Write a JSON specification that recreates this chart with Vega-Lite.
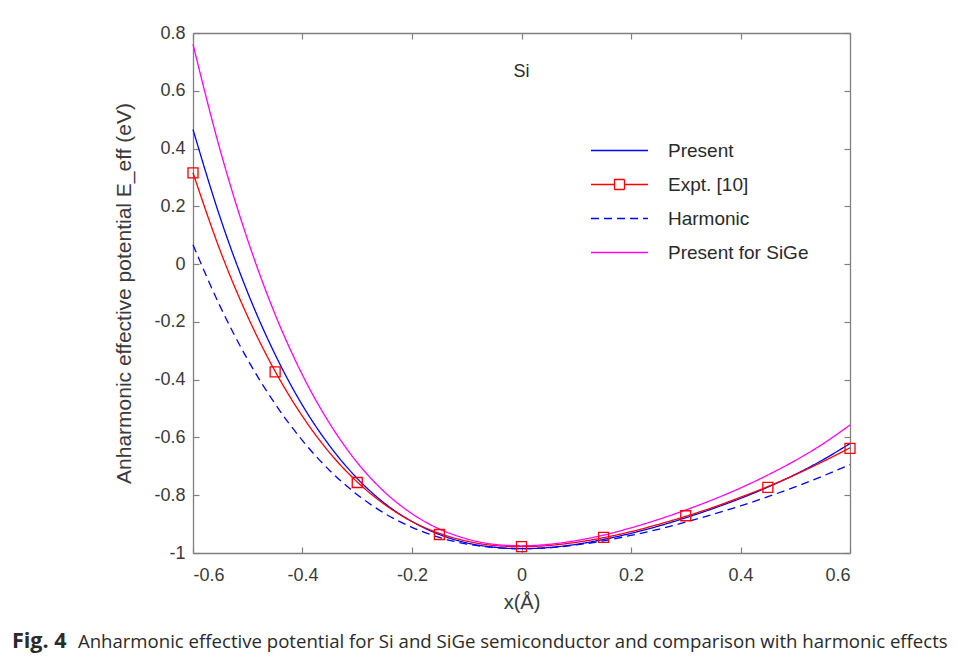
{
  "$schema": "https://vega.github.io/schema/vega-lite/v6.json",
  "width": 657,
  "height": 520,
  "autosize": {"type": "none"},
  "padding": {"left": 193, "top": 33, "right": 106, "bottom": 109},
  "background": "white",
  "config": {
    "view": {"stroke": null},
    "font": "Liberation Sans",
    "axis": {
      "grid": false,
      "domainColor": "#808080",
      "domainWidth": 1.3,
      "tickColor": "#808080",
      "tickWidth": 1.2,
      "tickSize": -6,
      "labelFont": "Liberation Sans",
      "labelFontSize": 18,
      "labelColor": "#3a3a3a",
      "titleFont": "Liberation Sans",
      "titleFontSize": 20,
      "titleFontWeight": "normal",
      "titleColor": "#3a3a3a"
    }
  },
  "title": {
    "text": "Fig. 4",
    "subtitle": "\u200b\u00a0\u00a0\u00a0\u00a0\u00a0\u00a0\u00a0\u00a0\u00a0\u00a0\u00a0\u00a0\u00a0\u2009Anharmonic effective potential for Si and SiGe semiconductor and comparison with harmonic effects",
    "orient": "bottom",
    "anchor": "start",
    "frame": "group",
    "dx": -181,
    "offset": 19,
    "font": "Open Sans",
    "fontSize": 21.5,
    "fontWeight": "bold",
    "color": "#2a2a2a",
    "subtitleFont": "Open Sans",
    "subtitleFontSize": 18.6,
    "subtitleColor": "#2a2a2a",
    "subtitlePadding": -19.3
  },
  "datasets": {
    "curves": [
      {"x": -0.6, "E": 0.466, "series": "Present"},
      {"x": -0.55, "E": 0.159, "series": "Present"},
      {"x": -0.5, "E": -0.099, "series": "Present"},
      {"x": -0.45, "E": -0.313, "series": "Present"},
      {"x": -0.4, "E": -0.489, "series": "Present"},
      {"x": -0.35, "E": -0.63, "series": "Present"},
      {"x": -0.3, "E": -0.742, "series": "Present"},
      {"x": -0.25, "E": -0.828, "series": "Present"},
      {"x": -0.2, "E": -0.891, "series": "Present"},
      {"x": -0.15, "E": -0.936, "series": "Present"},
      {"x": -0.1, "E": -0.965, "series": "Present"},
      {"x": -0.05, "E": -0.98, "series": "Present"},
      {"x": 0, "E": -0.985, "series": "Present"},
      {"x": 0.05, "E": -0.981, "series": "Present"},
      {"x": 0.1, "E": -0.97, "series": "Present"},
      {"x": 0.15, "E": -0.953, "series": "Present"},
      {"x": 0.2, "E": -0.932, "series": "Present"},
      {"x": 0.25, "E": -0.907, "series": "Present"},
      {"x": 0.3, "E": -0.878, "series": "Present"},
      {"x": 0.35, "E": -0.846, "series": "Present"},
      {"x": 0.4, "E": -0.811, "series": "Present"},
      {"x": 0.45, "E": -0.772, "series": "Present"},
      {"x": 0.5, "E": -0.728, "series": "Present"},
      {"x": 0.55, "E": -0.678, "series": "Present"},
      {"x": 0.6, "E": -0.621, "series": "Present"},
      {"x": -0.6, "E": 0.316, "series": "Expt. [10]"},
      {"x": -0.55, "E": 0.045, "series": "Expt. [10]"},
      {"x": -0.5, "E": -0.182, "series": "Expt. [10]"},
      {"x": -0.45, "E": -0.371, "series": "Expt. [10]"},
      {"x": -0.4, "E": -0.527, "series": "Expt. [10]"},
      {"x": -0.35, "E": -0.654, "series": "Expt. [10]"},
      {"x": -0.3, "E": -0.754, "series": "Expt. [10]"},
      {"x": -0.25, "E": -0.832, "series": "Expt. [10]"},
      {"x": -0.2, "E": -0.891, "series": "Expt. [10]"},
      {"x": -0.15, "E": -0.932, "series": "Expt. [10]"},
      {"x": -0.1, "E": -0.959, "series": "Expt. [10]"},
      {"x": -0.05, "E": -0.974, "series": "Expt. [10]"},
      {"x": 0, "E": -0.978, "series": "Expt. [10]"},
      {"x": 0.05, "E": -0.974, "series": "Expt. [10]"},
      {"x": 0.1, "E": -0.963, "series": "Expt. [10]"},
      {"x": 0.15, "E": -0.947, "series": "Expt. [10]"},
      {"x": 0.2, "E": -0.926, "series": "Expt. [10]"},
      {"x": 0.25, "E": -0.901, "series": "Expt. [10]"},
      {"x": 0.3, "E": -0.873, "series": "Expt. [10]"},
      {"x": 0.35, "E": -0.842, "series": "Expt. [10]"},
      {"x": 0.4, "E": -0.807, "series": "Expt. [10]"},
      {"x": 0.45, "E": -0.77, "series": "Expt. [10]"},
      {"x": 0.5, "E": -0.729, "series": "Expt. [10]"},
      {"x": 0.55, "E": -0.684, "series": "Expt. [10]"},
      {"x": 0.6, "E": -0.636, "series": "Expt. [10]"},
      {"x": -0.6, "E": 0.067, "series": "Harmonic"},
      {"x": -0.55, "E": -0.148, "series": "Harmonic"},
      {"x": -0.5, "E": -0.331, "series": "Harmonic"},
      {"x": -0.45, "E": -0.484, "series": "Harmonic"},
      {"x": -0.4, "E": -0.611, "series": "Harmonic"},
      {"x": -0.35, "E": -0.715, "series": "Harmonic"},
      {"x": -0.3, "E": -0.798, "series": "Harmonic"},
      {"x": -0.25, "E": -0.863, "series": "Harmonic"},
      {"x": -0.2, "E": -0.911, "series": "Harmonic"},
      {"x": -0.15, "E": -0.946, "series": "Harmonic"},
      {"x": -0.1, "E": -0.969, "series": "Harmonic"},
      {"x": -0.05, "E": -0.981, "series": "Harmonic"},
      {"x": 0, "E": -0.985, "series": "Harmonic"},
      {"x": 0.05, "E": -0.982, "series": "Harmonic"},
      {"x": 0.1, "E": -0.972, "series": "Harmonic"},
      {"x": 0.15, "E": -0.958, "series": "Harmonic"},
      {"x": 0.2, "E": -0.939, "series": "Harmonic"},
      {"x": 0.25, "E": -0.918, "series": "Harmonic"},
      {"x": 0.3, "E": -0.893, "series": "Harmonic"},
      {"x": 0.35, "E": -0.866, "series": "Harmonic"},
      {"x": 0.4, "E": -0.837, "series": "Harmonic"},
      {"x": 0.45, "E": -0.805, "series": "Harmonic"},
      {"x": 0.5, "E": -0.771, "series": "Harmonic"},
      {"x": 0.55, "E": -0.734, "series": "Harmonic"},
      {"x": 0.6, "E": -0.694, "series": "Harmonic"},
      {"x": -0.6, "E": 0.761, "series": "Present for SiGe"},
      {"x": -0.55, "E": 0.392, "series": "Present for SiGe"},
      {"x": -0.5, "E": 0.083, "series": "Present for SiGe"},
      {"x": -0.45, "E": -0.174, "series": "Present for SiGe"},
      {"x": -0.4, "E": -0.384, "series": "Present for SiGe"},
      {"x": -0.35, "E": -0.553, "series": "Present for SiGe"},
      {"x": -0.3, "E": -0.687, "series": "Present for SiGe"},
      {"x": -0.25, "E": -0.789, "series": "Present for SiGe"},
      {"x": -0.2, "E": -0.864, "series": "Present for SiGe"},
      {"x": -0.15, "E": -0.917, "series": "Present for SiGe"},
      {"x": -0.1, "E": -0.951, "series": "Present for SiGe"},
      {"x": -0.05, "E": -0.97, "series": "Present for SiGe"},
      {"x": 0, "E": -0.975, "series": "Present for SiGe"},
      {"x": 0.05, "E": -0.97, "series": "Present for SiGe"},
      {"x": 0.1, "E": -0.957, "series": "Present for SiGe"},
      {"x": 0.15, "E": -0.938, "series": "Present for SiGe"},
      {"x": 0.2, "E": -0.913, "series": "Present for SiGe"},
      {"x": 0.25, "E": -0.884, "series": "Present for SiGe"},
      {"x": 0.3, "E": -0.851, "series": "Present for SiGe"},
      {"x": 0.35, "E": -0.815, "series": "Present for SiGe"},
      {"x": 0.4, "E": -0.775, "series": "Present for SiGe"},
      {"x": 0.45, "E": -0.73, "series": "Present for SiGe"},
      {"x": 0.5, "E": -0.68, "series": "Present for SiGe"},
      {"x": 0.55, "E": -0.623, "series": "Present for SiGe"},
      {"x": 0.6, "E": -0.557, "series": "Present for SiGe"}
    ],
    "expt": [
      {"x": -0.6, "E": 0.316},
      {"x": -0.45, "E": -0.373},
      {"x": -0.3, "E": -0.756},
      {"x": -0.15, "E": -0.936},
      {"x": 0, "E": -0.978},
      {"x": 0.15, "E": -0.946},
      {"x": 0.3, "E": -0.871},
      {"x": 0.45, "E": -0.773},
      {"x": 0.6, "E": -0.638}
    ],
    "labels": [
      {"x": 0, "E": 0.665, "label": "Si"}
    ]
  },
  "layer": [
    {
      "data": {"name": "curves"},
      "mark": {"type": "line", "strokeWidth": 1.3, "interpolate": "monotone"},
      "encoding": {
        "x": {
          "field": "x", "type": "quantitative",
          "scale": {"domain": [-0.6, 0.6], "nice": false, "zero": false},
          "axis": {
            "orient": "bottom",
            "values": [-0.6, -0.4, -0.2, 0, 0.2, 0.4, 0.6],
            "format": ".1~f",
            "labelExpr": "replace(datum.label, '\u2212', '-')",
            "labelPadding": 19,
            "title": "x(Å)",
            "titlePadding": 8
          }
        },
        "y": {
          "field": "E", "type": "quantitative",
          "scale": {"domain": [-1, 0.8], "nice": false, "zero": false},
          "axis": {
            "orient": "left",
            "values": [-1, -0.8, -0.6, -0.4, -0.2, 0, 0.2, 0.4, 0.6, 0.8],
            "format": ".1~f",
            "labelExpr": "replace(datum.label, '\u2212', '-')",
            "labelPadding": 14,
            "title": "Anharmonic effective potential E_eff (eV)",
            "titleFontSize": 21,
            "titlePadding": 19
          }
        },
        "color": {
          "field": "series", "type": "nominal",
          "scale": {
            "domain": ["Present", "Expt. [10]", "Harmonic", "Present for SiGe"],
            "range": ["#0000ff", "#ff0000", "#0000ff", "#ff00ff"]
          },
          "legend": {
            "title": null,
            "orient": "none",
            "legendX": 417,
            "legendY": 108,
            "padding": 0,
            "symbolSize": 100,
            "symbolStrokeWidth": 1.3,
            "labelOffset": 39,
            "labelFont": "Liberation Sans",
            "labelFontSize": 19,
            "labelColor": "#2a2a2a",
            "rowPadding": 14,
            "encoding": {
              "symbols": {
                "shape": {"value": {"expr": "datum.value === 'Expt. [10]' ? 'M-5.7,0H-1M1,0H5.7M-1,-1H1V1H-1Z' : 'M-5.7,0H5.7'"}},
                "strokeDash": {"value": {"expr": "datum.value === 'Harmonic' ? [3, 2] : [1, 0]"}},
                "fill": {"value": "transparent"}
              }
            }
          }
        },
        "strokeDash": {
          "field": "series", "type": "nominal",
          "scale": {
            "domain": ["Present", "Expt. [10]", "Harmonic", "Present for SiGe"],
            "range": [[1, 0], [1, 0], [8, 5], [1, 0]]
          },
          "legend": {
            "title": null,
            "orient": "none",
            "legendX": 417,
            "legendY": 108,
            "padding": 0,
            "symbolSize": 100,
            "symbolStrokeWidth": 1.3,
            "labelOffset": 39,
            "labelFont": "Liberation Sans",
            "labelFontSize": 19,
            "labelColor": "#2a2a2a",
            "rowPadding": 14,
            "encoding": {
              "symbols": {
                "shape": {"value": {"expr": "datum.value === 'Expt. [10]' ? 'M-5.7,0H-1M1,0H5.7M-1,-1H1V1H-1Z' : 'M-5.7,0H5.7'"}},
                "strokeDash": {"value": {"expr": "datum.value === 'Harmonic' ? [3, 2] : [1, 0]"}},
                "fill": {"value": "transparent"}
              }
            }
          }
        }
      }
    },
    {
      "data": {"name": "expt"},
      "mark": {"type": "point", "shape": "square", "filled": false, "color": "#ff0000", "size": 100, "strokeWidth": 1.3, "opacity": 1},
      "encoding": {
        "x": {
          "field": "x", "type": "quantitative",
          "axis": {"orient": "top", "values": [-0.6, -0.4, -0.2, 0, 0.2, 0.4, 0.6], "labels": false, "title": null}
        },
        "y": {
          "field": "E", "type": "quantitative",
          "axis": {"orient": "right", "values": [-1, -0.8, -0.6, -0.4, -0.2, 0, 0.2, 0.4, 0.6, 0.8], "labels": false, "title": null}
        }
      }
    },
    {
      "data": {"name": "labels"},
      "mark": {"type": "text", "font": "Liberation Sans", "fontSize": 18, "color": "#2a2a2a", "align": "center", "baseline": "middle"},
      "encoding": {
        "x": {"field": "x", "type": "quantitative", "axis": null},
        "y": {"field": "E", "type": "quantitative", "axis": null},
        "text": {"field": "label"}
      }
    }
  ],
  "resolve": {"axis": {"x": "independent", "y": "independent"}}
}
